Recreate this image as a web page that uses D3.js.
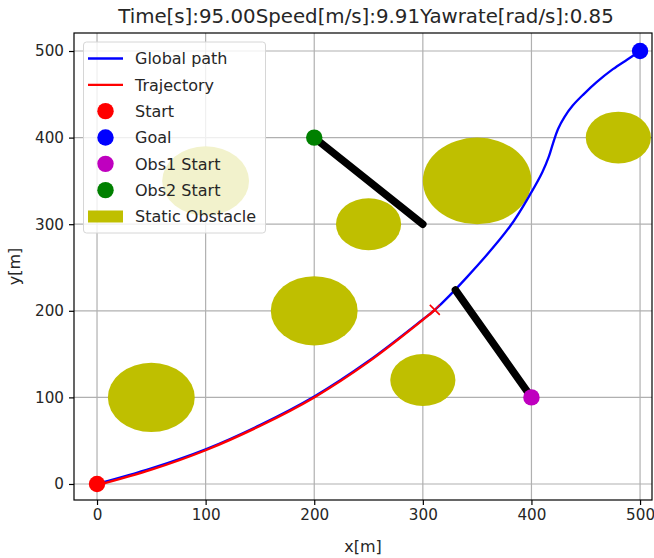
<!DOCTYPE html>
<html>
<head>
<meta charset="utf-8">
<script src="https://cdn.jsdelivr.net/npm/d3@7"></script>
<style>
  html, body { margin: 0; padding: 0; background: #fff; }
  svg { display: block; font-family: "DejaVu Sans", sans-serif; }
</style>
</head>
<body>
<svg id="chart" width="654" height="558"></svg>
<script>
// Global path (planned route from start to goal)
const pathX = [0, 50, 100, 150, 200, 250, 300, 311, 340, 380, 400, 410, 416, 420, 424.5, 430.5, 438, 448, 460, 475, 488, 500];
const pathY = [0, 18, 40, 68, 101, 142, 190, 201, 238, 297, 337, 360, 378, 394, 410, 424, 437, 450, 464, 479, 490, 500];

// Driven trajectory so far
const trajX = [0, 50, 100, 150, 200, 250, 300, 311];
const trajY = [-1.5, 16.5, 39, 67, 100, 141, 189.5, 201];

// Static obstacles (circles in data units)
const obsCX = [50, 100, 200, 250, 300, 350, 480];
const obsCY = [100, 350, 200, 300, 120, 350, 400];
const obsR  = [40, 40, 40, 30, 30, 50, 30];

// Moving obstacles: start point and current point
const mov1 = { start: [400, 100], now: [330, 224] };
const mov2 = { start: [200, 400], now: [300, 300] };

const startPt = [0, 0];
const goalPt = [500, 500];

const xTicks = [0, 100, 200, 300, 400, 500];
const yTicks = [0, 100, 200, 300, 400, 500];

const titleText = "Time[s]:95.00Speed[m/s]:9.91Yawrate[rad/s]:0.85";

const legendItems = [
  { label: "Global path", kind: "line", color: "#0000ff" },
  { label: "Trajectory", kind: "line", color: "#ff0000" },
  { label: "Start", kind: "dot", color: "#ff0000" },
  { label: "Goal", kind: "dot", color: "#0000ff" },
  { label: "Obs1 Start", kind: "dot", color: "#bf00bf" },
  { label: "Obs2 Start", kind: "dot", color: "#008000" },
  { label: "Static Obstacle", kind: "patch", color: "#bfbf00" }
];

const svg = d3.select("#chart");
const frame = { left: 74, right: 652, top: 33, bottom: 500 };
const fs = 16;
const tickFs = 15.2;

const x = d3.scaleLinear().domain([-21.2, 511]).range([frame.left, frame.right]);
const y = d3.scaleLinear().domain([-18.5, 520.8]).range([frame.bottom, frame.top]);

svg.append("defs").append("clipPath").attr("id", "plotclip")
  .append("rect")
  .attr("x", frame.left).attr("y", frame.top)
  .attr("width", frame.right - frame.left).attr("height", frame.bottom - frame.top);

// grid
const grid = svg.append("g").attr("stroke", "#b0b0b0").attr("stroke-width", 1.2);
grid.selectAll("line.gx").data(xTicks).join("line")
  .attr("x1", d => x(d)).attr("x2", d => x(d))
  .attr("y1", frame.top).attr("y2", frame.bottom);
grid.selectAll("line.gy").data(yTicks).join("line")
  .attr("y1", d => y(d)).attr("y2", d => y(d))
  .attr("x1", frame.left).attr("x2", frame.right);

const plot = svg.append("g").attr("clip-path", "url(#plotclip)");

// static obstacles
plot.selectAll("ellipse").data(obsCX.map((cx, i) => ({ cx, cy: obsCY[i], r: obsR[i] })))
  .join("ellipse")
  .attr("cx", d => x(d.cx)).attr("cy", d => y(d.cy))
  .attr("rx", d => x(d.r) - x(0)).attr("ry", d => y(0) - y(d.r))
  .attr("fill", "#bfbf00");

const line = d3.line().x(d => x(d[0])).y(d => y(d[1])).curve(d3.curveCatmullRom.alpha(0.5));

plot.append("path")
  .datum(pathX.map((v, i) => [v, pathY[i]]))
  .attr("d", line).attr("fill", "none")
  .attr("stroke", "#0000ff").attr("stroke-width", 2.3);

plot.append("path")
  .datum(trajX.map((v, i) => [v, trajY[i]]))
  .attr("d", line).attr("fill", "none")
  .attr("stroke", "#ff0000").attr("stroke-width", 2.3);

// current vehicle position cross
const last = [trajX[trajX.length - 1], trajY[trajY.length - 1]];
const cs = 5;
plot.append("path")
  .attr("d", `M${x(last[0]) - cs},${y(last[1]) - cs}L${x(last[0]) + cs},${y(last[1]) + cs}M${x(last[0]) - cs},${y(last[1]) + cs}L${x(last[0]) + cs},${y(last[1]) - cs}`)
  .attr("stroke", "#ff0000").attr("stroke-width", 1.6);

// moving obstacle tracks
[mov1, mov2].forEach(m => {
  plot.append("line")
    .attr("x1", x(m.start[0])).attr("y1", y(m.start[1]))
    .attr("x2", x(m.now[0])).attr("y2", y(m.now[1]))
    .attr("stroke", "#000").attr("stroke-width", 7.5).attr("stroke-linecap", "round");
});

// point markers
const dots = [
  { p: startPt, c: "#ff0000" },
  { p: goalPt, c: "#0000ff" },
  { p: mov1.start, c: "#bf00bf" },
  { p: mov2.start, c: "#008000" }
];
plot.selectAll("circle.pt").data(dots).join("circle")
  .attr("cx", d => x(d.p[0])).attr("cy", d => y(d.p[1]))
  .attr("r", 8.2).attr("fill", d => d.c);

// frame
svg.append("rect")
  .attr("x", frame.left).attr("y", frame.top)
  .attr("width", frame.right - frame.left).attr("height", frame.bottom - frame.top)
  .attr("fill", "none").attr("stroke", "#000").attr("stroke-width", 1.2);

// axes
const xAxis = svg.append("g").attr("transform", `translate(0,${frame.bottom})`)
  .call(d3.axisBottom(x).tickValues(xTicks).tickSize(5).tickPadding(4).tickFormat(d3.format("d")));
const yAxis = svg.append("g").attr("transform", `translate(${frame.left},0)`)
  .call(d3.axisLeft(y).tickValues(yTicks).tickSize(5).tickPadding(5).tickFormat(d3.format("d")));
[xAxis, yAxis].forEach(a => {
  a.select(".domain").remove();
  a.selectAll("line").attr("stroke", "#000").attr("stroke-width", 1.2);
  a.selectAll("text").attr("font-size", tickFs).attr("fill", "#262626")
    .attr("font-family", "DejaVu Sans, sans-serif");
});

svg.append("text").attr("x", (frame.left + frame.right) / 2).attr("y", 552)
  .attr("text-anchor", "middle").attr("font-size", fs).attr("fill", "#262626").text("x[m]");
svg.append("text").attr("transform", `translate(20,${(frame.top + frame.bottom) / 2}) rotate(-90)`)
  .attr("text-anchor", "middle").attr("font-size", fs).attr("fill", "#262626").text("y[m]");
svg.append("text").attr("x", (frame.left + frame.right) / 2 + 3).attr("y", 23)
  .attr("text-anchor", "middle").attr("font-size", 19.8).attr("fill", "#262626").text(titleText);

// legend
const lg = svg.append("g");
lg.append("rect")
  .attr("x", 83.5).attr("y", 42).attr("width", 182).attr("height", 191)
  .attr("rx", 3).attr("fill", "rgba(255,255,255,0.8)")
  .attr("stroke", "#d6d6d6").attr("stroke-width", 1);
const rowY = d3.scaleLinear().domain([0, legendItems.length - 1]).range([58.5, 216.5]);
legendItems.forEach((it, i) => {
  const cy = rowY(i);
  if (it.kind === "line") {
    lg.append("line").attr("x1", 88).attr("x2", 123).attr("y1", cy).attr("y2", cy)
      .attr("stroke", it.color).attr("stroke-width", 2.3);
  } else if (it.kind === "dot") {
    lg.append("circle").attr("cx", 105.5).attr("cy", cy).attr("r", 8.2).attr("fill", it.color);
  } else {
    lg.append("rect").attr("x", 88).attr("y", cy - 6).attr("width", 35).attr("height", 12)
      .attr("fill", it.color);
  }
  lg.append("text").attr("x", 135).attr("y", cy).attr("dy", "0.36em")
    .attr("font-size", fs).attr("fill", "#262626").text(it.label);
});
</script>
</body>
</html>
